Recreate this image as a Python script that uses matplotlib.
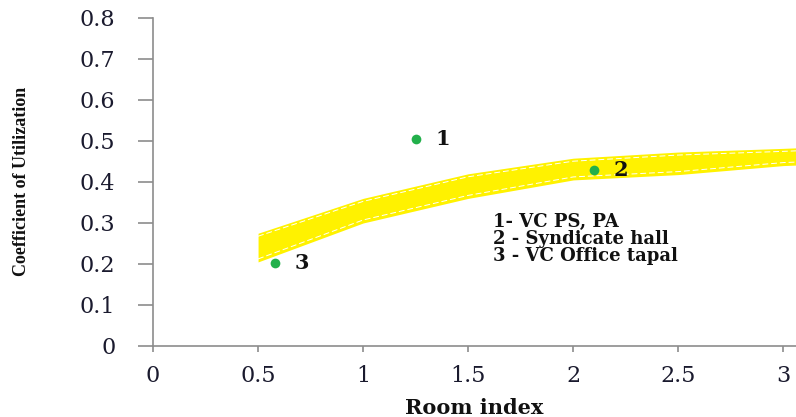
import matplotlib
matplotlib.use("Agg")
import matplotlib.pyplot as plt
import matplotlib.transforms as mtransforms

# recommended band (upper / lower limit of coefficient of utilization)
band_x = [0.5, 1.0, 1.5, 2.0, 2.5, 3.0, 3.1]
band_upper = [0.275, 0.36, 0.42, 0.458, 0.473, 0.482, 0.484]
band_lower = [0.205, 0.30, 0.36, 0.405, 0.418, 0.44, 0.442]

# measured rooms
room_ids = ["1", "2", "3"]
room_index = [1.25, 2.1, 0.58]
room_cu = [0.505, 0.43, 0.202]
room_names = ["1- VC PS, PA", "2 - Syndicate hall", "3 - VC Office tapal"]

xticks = [0, 0.5, 1, 1.5, 2, 2.5, 3]
xtick_labels = ["0", "0.5", "1", "1.5", "2", "2.5", "3"]
yticks = [0, 0.1, 0.2, 0.3, 0.4, 0.5, 0.6, 0.7, 0.8]
ytick_labels = ["0", "0.1", "0.2", "0.3", "0.4", "0.5", "0.6", "0.7", "0.8"]

fig = plt.figure(figsize=(7.96, 4.17), dpi=100)
ax = fig.add_axes([0.1922, 0.1703, 0.8078, 0.7866])

yellow = "#fff200"
ax.fill_between(band_x, band_lower, band_upper, color=yellow, lw=0, zorder=1)
# thin white dashes just inside the band edges
up = ax.transData + mtransforms.ScaledTranslation(0, -3 / 100, fig.dpi_scale_trans)
dn = ax.transData + mtransforms.ScaledTranslation(0, 3 / 100, fig.dpi_scale_trans)
ax.plot(band_x, band_upper, color="white", lw=0.7, ls=(0, (6, 3)), transform=up, zorder=2)
ax.plot(band_x, band_lower, color="white", lw=0.7, ls=(0, (6, 3)), transform=dn, zorder=2)

ax.plot(room_index, room_cu, "o", color="#22b04b", ms=7, mec="none", zorder=3)
for rid, x, y in zip(room_ids, room_index, room_cu):
    ax.annotate(rid, (x, y), xytext=(14, 0), textcoords="offset points",
                ha="left", va="center", fontsize=15, fontweight="bold",
                family="DejaVu Serif", color="#111111", zorder=4)

ax.text(1.62, 0.325, "\n".join(room_names), ha="left", va="top",
        fontsize=13, fontweight="bold", family="DejaVu Serif",
        color="#111111", linespacing=0.95)

ax.set_xlim(0, 3.06)
ax.set_ylim(0, 0.8)
ax.set_xticks(xticks)
ax.set_xticklabels(xtick_labels)
ax.set_yticks(yticks)
ax.set_yticklabels(ytick_labels)

for side in ["top", "right"]:
    ax.spines[side].set_visible(False)
for side in ["left", "bottom"]:
    ax.spines[side].set_color("#8c8c8c")
    ax.spines[side].set_linewidth(1.2)

ax.tick_params(axis="y", length=11, width=1.2, color="#8c8c8c", pad=16,
               labelsize=16, labelcolor="#1a1a2e")
ax.tick_params(axis="x", length=4.5, width=1.2, color="#8c8c8c", pad=9,
               labelsize=16, labelcolor="#1a1a2e")
for lab in ax.get_xticklabels() + ax.get_yticklabels():
    lab.set_family("DejaVu Serif")

ax.set_xlabel("Room index", fontsize=15, fontweight="bold",
              family="DejaVu Serif", color="#111111")
ax.xaxis.set_label_coords(0.5, -0.16)
ax.set_ylabel("Coefficient of Utilization", fontsize=13, fontweight="bold",
              family="Liberation Serif", color="#111111", va="center")
ax.yaxis.set_label_coords(-0.204, 0.503)

fig.savefig("out.png", dpi=100)
